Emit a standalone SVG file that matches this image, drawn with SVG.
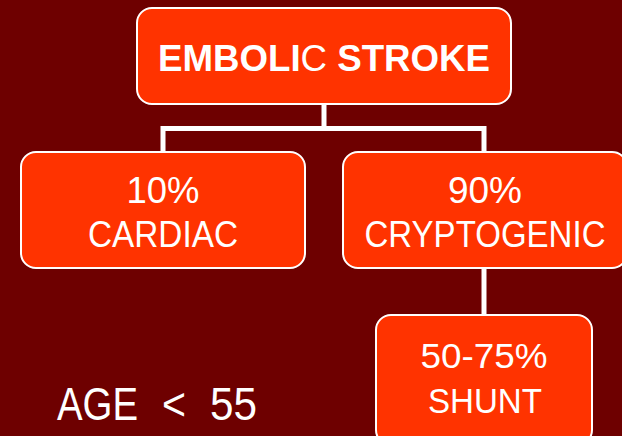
<svg xmlns="http://www.w3.org/2000/svg" width="622" height="436" viewBox="0 0 622 436">
<style>
.box{fill:#FF3300;stroke:#FFFFFF;stroke-width:2}
.conn{fill:none;stroke:#FFFFFF;stroke-width:5}
.t{font-family:"Liberation Sans",Arial,sans-serif;fill:#FFFFFF;text-anchor:middle}
.s{font-family:"Liberation Sans",Arial,sans-serif;fill:#FFFFFF}
.b{font-weight:bold}
</style>
<rect x="0" y="0" width="622" height="436" fill="#6E0000"/>
<g id="connectors">
<path class="conn" d="M324,104 V128.5 M163,128.5 H484 M163,126 V152 M484,126 V152"/>
<path class="conn" d="M484,268 V315"/>
</g>
<g id="node-embolic">
<rect class="box" x="137" y="8" width="374" height="96" rx="15"/>
<text class="t b" x="324" y="71" font-size="36" textLength="332" lengthAdjust="spacingAndGlyphs"><tspan>EMBOLI</tspan><tspan font-weight="normal">C</tspan><tspan> STROKE</tspan></text>
</g>
<g id="node-cardiac">
<rect class="box" x="21" y="152" width="284" height="116" rx="15"/>
<text class="t" x="163" y="203" font-size="36" textLength="73" lengthAdjust="spacingAndGlyphs">10%</text>
<text class="t" x="163" y="247" font-size="36" textLength="150" lengthAdjust="spacingAndGlyphs">CARDIAC</text>
</g>
<g id="node-cryptogenic">
<rect class="box" x="343" y="152" width="284" height="116" rx="15"/>
<text class="t" x="485" y="203" font-size="36" textLength="74" lengthAdjust="spacingAndGlyphs">90%</text>
<text class="t" x="485" y="247" font-size="36" textLength="241" lengthAdjust="spacingAndGlyphs">CRYPTOGENIC</text>
</g>
<g id="node-shunt">
<rect class="box" x="376" y="315" width="216" height="130" rx="15"/>
<text class="t" x="484" y="368" font-size="35" textLength="127" lengthAdjust="spacingAndGlyphs">50-75%</text>
<text class="t" x="485" y="413" font-size="35" textLength="114" lengthAdjust="spacingAndGlyphs">SHUNT</text>
</g>
<g id="label-age">
<text class="s" y="420" font-size="46"><tspan x="57" textLength="81" lengthAdjust="spacingAndGlyphs">AGE</tspan><tspan x="162" textLength="24" lengthAdjust="spacingAndGlyphs">&lt;</tspan><tspan x="210" textLength="47" lengthAdjust="spacingAndGlyphs">55</tspan></text>
</g>
</svg>
